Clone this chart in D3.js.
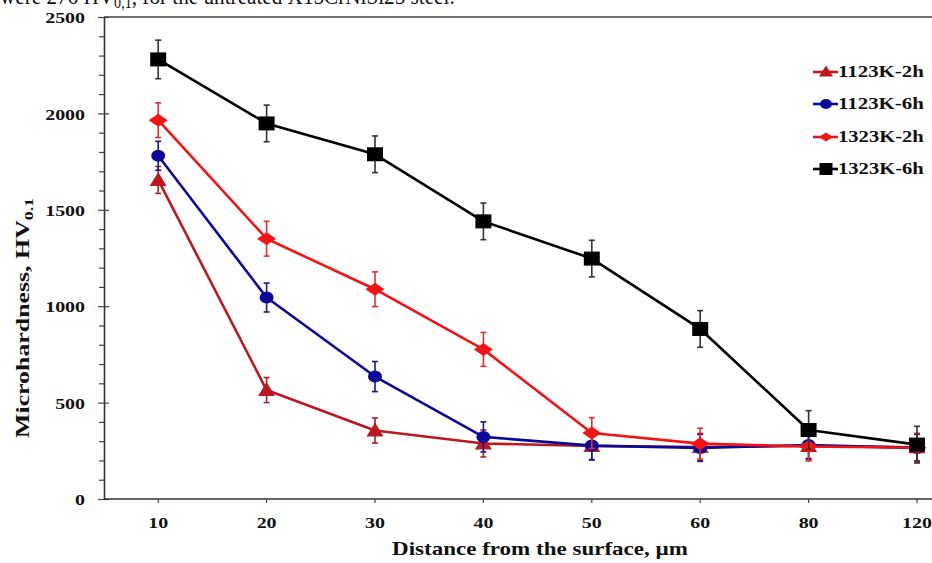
<!DOCTYPE html>
<html>
<head>
<meta charset="utf-8">
<script src="https://cdn.jsdelivr.net/npm/d3@7"></script>
<style>
  html, body { margin: 0; padding: 0; background: #fff; }
  svg { display: block; }
  text { font-family: "Liberation Serif", "Times New Roman", serif; }
</style>
</head>
<body>
<svg id="chart" width="932" height="563"></svg>
<script>
// ---------- data ----------
const categories = ["10", "20", "30", "40", "50", "60", "80", "120"];
const seriesNames = ["1123K-2h", "1123K-6h", "1323K-2h", "1323K-6h"];
const hv1123K2h = [1655, 565, 355, 288, 275, 270, 275, 268];
const hv1123K6h = [1780, 1045, 635, 322, 277, 265, 280, 265];
const hv1323K2h = [1965, 1350, 1088, 776, 342, 287, 272, 266];
const hv1323K6h = [2280, 1948, 1788, 1440, 1247, 882, 358, 282];
const err1123K2h = [70, 65, 65, 70, 70, 70, 70, 70];
const err1123K6h = [75, 75, 78, 78, 75, 70, 70, 70];
const err1323K2h = [90, 90, 90, 88, 80, 80, 75, 75];
const err1323K6h = [100, 95, 95, 95, 95, 95, 100, 95];
const yTicks = [0, 500, 1000, 1500, 2000, 2500];
const yMinorTicks = d3.range(0, 2501, 100).filter(v => v % 500 !== 0);
const yTitle = "Microhardness, HV";
const yTitleSub = "0.1";
const xTitle = "Distance from the surface, \u00b5m";
const topTextMain = "were 276 HV";
const topTextSub = "0,1";
const topTextRest = ", for the untreated X15CrNiSi25 steel.";

// ---------- styling ----------
const colors = ["#bb1820", "#0a0a96", "#f01414", "#000000"];
const errColors = ["#a82028", "#1a1a80", "#e03030", "#333333"];
const markers = ["triangle", "circle", "diamond", "square"];
const SX = 1.33; // horizontal text stretch of the original picture

const svg = d3.select("#chart");
const W = 932, H = 563;
const plotLeft = 104, plotTop = 17, plotBottom = 499;

const x = d3.scaleBand().domain(categories).range([plotLeft, plotLeft + 8 * 108.4]).padding(0);
const xc = c => x(c) + x.bandwidth() / 2;
const y = d3.scaleLinear().domain([0, 2500]).range([plotBottom, plotTop]);

const series = seriesNames.map((name, i) => ({
  name,
  color: colors[i],
  errColor: errColors[i],
  marker: markers[i],
  values: [hv1123K2h, hv1123K6h, hv1323K2h, hv1323K6h][i],
  errs: [err1123K2h, err1123K6h, err1323K2h, err1323K6h][i]
}));

// marker shapes (local coords, w x h)
function markerPath(type, w, h) {
  const hw = w / 2, hh = h / 2;
  if (type === "square") return `M${-hw},${-hh}H${hw}V${hh}H${-hw}Z`;
  if (type === "diamond") return `M0,${-hh}L${hw},0L0,${hh}L${-hw},0Z`;
  if (type === "triangle") return `M0,${-hh - 1}L${hw},${hh - 1}L${-hw},${hh - 1}Z`;
  return `M${-hw},0A${hw},${hh} 0 1,0 ${hw},0A${hw},${hh} 0 1,0 ${-hw},0Z`;
}
const markerSize = {
  square: [16, 14], diamond: [19, 13], triangle: [17, 14], circle: [14, 12]
};
const legendMarkerSize = {
  square: [13, 12], diamond: [14, 9], triangle: [14, 11], circle: [12, 10]
};

// ---------- top partial caption (cut off at the top, as in the source) ----------
const cap = svg.append("g").attr("transform", "translate(0,4)");
const capText = cap.append("text")
  .attr("x", 0).attr("y", 0)
  .attr("font-size", 24)
  .attr("fill", "#111");
capText.append("tspan").text(topTextMain);
capText.append("tspan").attr("font-size", 16).attr("dy", 4).text(topTextSub);
capText.append("tspan").attr("dy", -4).text(topTextRest);
{
  const w = capText.node().getBBox().width;
  capText.attr("transform", `scale(${455 / w},1)`);
}

// ---------- frame ----------
svg.append("line")
  .attr("x1", plotLeft).attr("x2", W).attr("y1", plotTop).attr("y2", plotTop)
  .attr("stroke", "#444").attr("stroke-width", 1.5);

// ---------- y axis ----------
const yMinor = svg.append("g").attr("transform", `translate(${plotLeft},0)`)
  .call(d3.axisLeft(y).tickValues(yMinorTicks).tickSize(5).tickFormat(""));
yMinor.select(".domain").remove();
yMinor.selectAll("line").attr("stroke", "#444").attr("stroke-width", 1.2);

const yMajorIn = svg.append("g").attr("transform", `translate(${plotLeft},0)`)
  .call(d3.axisLeft(y).tickValues(yTicks).tickSize(-5).tickFormat(""));
yMajorIn.select(".domain").remove();
yMajorIn.selectAll("line").attr("stroke", "#444").attr("stroke-width", 1.2);

const yAxis = svg.append("g").attr("transform", `translate(${plotLeft},0)`)
  .call(d3.axisLeft(y).tickValues(yTicks).tickSize(6).tickSizeOuter(0).tickFormat(d3.format("d")));
yAxis.select(".domain").attr("stroke", "#333").attr("stroke-width", 1.6);
yAxis.selectAll("line").attr("stroke", "#444").attr("stroke-width", 1.2);
yAxis.selectAll("text")
  .attr("font-family", "Liberation Serif, serif")
  .attr("font-weight", "bold")
  .attr("font-size", 15)
  .attr("fill", "#111")
  .attr("x", -19 / SX)
  .attr("dy", "0.38em")
  .attr("transform", `scale(${SX},1)`);

// ---------- x axis ----------
const xAxis = svg.append("g").attr("transform", `translate(0,${plotBottom})`)
  .call(d3.axisBottom(x).tickSize(4).tickSizeOuter(0));
xAxis.select(".domain").attr("stroke", "#333").attr("stroke-width", 1.6)
  .attr("d", `M${plotLeft},0H${W}`);
xAxis.selectAll("line").attr("stroke", "#444").attr("stroke-width", 1.2);
xAxis.selectAll("text")
  .attr("font-family", "Liberation Serif, serif")
  .attr("font-weight", "bold")
  .attr("font-size", 15)
  .attr("fill", "#111")
  .attr("y", 18)
  .attr("dy", "0.71em")
  .attr("transform", `scale(${SX},1)`);

// ---------- axis titles ----------
const xt = svg.append("g").attr("transform", `translate(540,555)`)
  .append("text")
  .attr("text-anchor", "middle")
  .attr("font-weight", "bold")
  .attr("font-size", 18)
  .attr("fill", "#111")
  .text(xTitle);
{
  const w = xt.node().getBBox().width;
  xt.attr("transform", `scale(${296 / w},1)`);
}

const ytG = svg.append("g").attr("transform", `translate(29,318) rotate(-90)`);
const yt = ytG.append("text")
  .attr("text-anchor", "middle")
  .attr("font-weight", "bold")
  .attr("font-size", 19)
  .attr("fill", "#111");
yt.append("tspan").text(yTitle);
yt.append("tspan").attr("font-size", 13).attr("dy", 4).text(yTitleSub);
{
  const w = yt.node().getBBox().width;
  yt.attr("transform", `scale(${240 / w},1)`);
}

// ---------- series ----------
const line = d3.line().x((d, i) => xc(categories[i])).y(d => y(d));

const plot = svg.append("g");
series.forEach(s => {
  const g = plot.append("g");
  const eb = g.append("g");
  s.values.forEach((v, i) => {
    const cx = xc(categories[i]);
    const y1 = y(v + s.errs[i]), y2 = y(v - s.errs[i]);
    eb.append("line").attr("x1", cx).attr("x2", cx).attr("y1", y1).attr("y2", y2)
      .attr("stroke", s.errColor).attr("stroke-width", 1.6);
    [y1, y2].forEach(yy => eb.append("line")
      .attr("x1", cx - 3).attr("x2", cx + 3).attr("y1", yy).attr("y2", yy)
      .attr("stroke", s.errColor).attr("stroke-width", 1.6));
  });
  g.append("path").datum(s.values)
    .attr("d", line)
    .attr("fill", "none")
    .attr("stroke", s.color)
    .attr("stroke-width", 2.6)
    .attr("stroke-linejoin", "round");
  const [mw, mh] = markerSize[s.marker];
  g.selectAll(".mk").data(s.values).join("path")
    .attr("class", "mk")
    .attr("transform", (d, i) => `translate(${xc(categories[i])},${y(d)})`)
    .attr("d", markerPath(s.marker, mw, mh))
    .attr("fill", s.color);
});

// ---------- legend ----------
const legend = svg.append("g");
const legendRows = [72, 104, 137, 169];
series.forEach((s, i) => {
  const ly = legendRows[i];
  const g = legend.append("g").attr("transform", `translate(0,${ly})`);
  g.append("line").attr("x1", 813).attr("x2", 838).attr("y1", 0).attr("y2", 0)
    .attr("stroke", s.color).attr("stroke-width", 2.6);
  const [mw, mh] = legendMarkerSize[s.marker];
  g.append("path").attr("transform", "translate(826,0)")
    .attr("d", markerPath(s.marker, mw, mh)).attr("fill", s.color);
  const lt = g.append("g").attr("transform", "translate(838,0)")
    .append("text")
    .attr("font-weight", "bold")
    .attr("font-size", 16)
    .attr("fill", "#111")
    .attr("dy", "0.34em")
    .text(s.name);
  const w = lt.node().getBBox().width;
  lt.attr("transform", `scale(${86 / w},1)`);
});
</script>
</body>
</html>
